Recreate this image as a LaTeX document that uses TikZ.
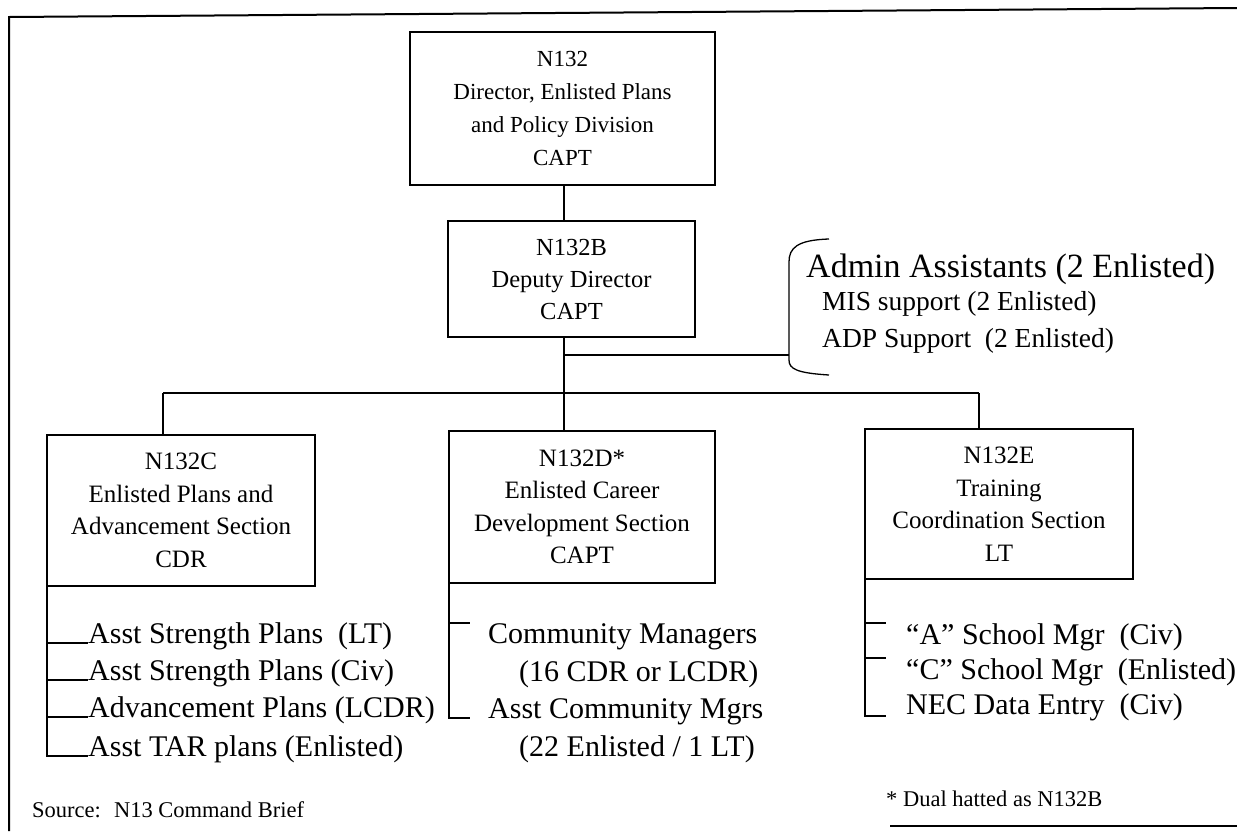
\documentclass[tikz,border=0pt]{standalone}
\usepackage{fontspec}
\setmainfont{Liberation Serif}
\begin{document}
\begin{tikzpicture}[x=1pt,y=-1pt,
  box/.style={draw, line width=1.6pt, inner sep=0pt, align=center, font=\fontsize{25}{32.5}\selectfont},
  conn/.style={line width=1.3pt},
  frame/.style={line width=2pt},
  item/.style={inner sep=0pt, anchor=base west, font=\fontsize{30}{37}\selectfont},
  staff/.style={inner sep=0pt, anchor=base west, font=\fontsize{27.5}{33}\selectfont},
  note/.style={inner sep=0pt, anchor=base west, font=\fontsize{22.5}{27}\selectfont},
]
\useasboundingbox (0,0) rectangle (1237,831);

% frame
\draw[frame] (9,831) -- (9,17) -- (1237,8);
\draw[frame] (890,826) -- (1237,826);

% boxes
\node[box, font=\fontsize{23}{33}\selectfont, minimum width=305pt, minimum height=153pt] (n132) at (562.5,108.5)
  {N132\\Director, Enlisted Plans\\and Policy Division\\CAPT};
\node[box, font=\fontsize{24.5}{32}\selectfont, minimum width=247pt, minimum height=116pt] (n132b) at (571.5,279)
  {N132B\\Deputy Director\\CAPT};
\node[box, minimum width=268pt, minimum height=151pt] (n132c) at (181,510.5)
  {N132C\\Enlisted Plans and\\Advancement Section\\CDR};
\node[box, minimum width=266pt, minimum height=152pt] (n132d) at (582,507)
  {N132D*\\Enlisted Career\\Development Section\\CAPT};
\node[box, minimum width=268pt, minimum height=150pt] (n132e) at (999,504)
  {N132E\\Training\\Coordination Section\\LT};

% connectors
\coordinate (spine) at (564,355);
\coordinate (brk) at (789,355);
\coordinate (busL) at (163,393);
\coordinate (busR) at (979,393);
\draw[conn] (n132.south -| spine) -- (n132b.north -| spine);
\draw[conn] (n132b.south -| spine) -- (n132d.north -| spine);
\draw[conn] (spine) -- (brk);
\draw[conn] (busL) -- (busR);
\draw[conn] (busL) -- (busL |- n132c.north);
\draw[conn] (busR) -- (busR |- n132e.north);

% staff bracket and texts
\draw[conn] (829,239) .. controls (797,240) and (789,248) .. (789,262)
  -- (789,360) .. controls (789,369) and (797,373) .. (829,375);
\node[inner sep=0pt, anchor=base west, font=\fontsize{34}{40}\selectfont] (adm) at (806,277) {Admin Assistants (2 Enlisted)};
\node[staff] (mis) at (822,310) {MIS support (2 Enlisted)};
\node[staff] (adp) at (822,347) {ADP Support~ (2 Enlisted)};

% N132C list
\node[item] (c1) at (88,643) {Asst Strength Plans~ (LT)};
\node[item] (c2) at (88,680) {Asst Strength Plans (Civ)};
\node[item] (c3) at (88,717) {Advancement Plans (LCDR)};
\node[item] (c4) at (88,756) {Asst TAR plans (Enlisted)};
\draw[conn] ([xshift=0.8pt]n132c.south west) |- (c4.base west);
\draw[conn] (n132c.west |- c1.base west) -- (c1.base west);
\draw[conn] (n132c.west |- c2.base west) -- (c2.base west);
\draw[conn] (n132c.west |- c3.base west) -- (c3.base west);

% N132D list
\node[item] (d1) at (488,643) {Community Managers};
\node[item] (d2) at (519,681) {(16 CDR or LCDR)};
\node[item] (d3) at (488,718) {Asst Community Mgrs};
\node[item] (d4) at (519,756) {(22 Enlisted / 1 LT)};
\draw[conn] ([xshift=0.8pt]n132d.south west) |- ([xshift=-18pt]d3.base west);
\draw[conn] (n132d.west |- d1.north west) -- ([xshift=-18pt]d1.north west);

% N132E list
\node[item] (e1) at (906,644) {“A” School Mgr~ (Civ)};
\node[item] (e2) at (906,679) {“C” School Mgr~ (Enlisted)};
\node[item] (e3) at (906,714) {NEC Data Entry~ (Civ)};
\draw[conn] ([xshift=0.8pt]n132e.south west) |- ([xshift=-20pt,yshift=-2pt]e3.base west);
\draw[conn] (n132e.west |- e1.north west) -- ([xshift=-20pt]e1.north west);
\draw[conn] (n132e.west |- e2.north west) -- ([xshift=-20pt]e2.north west);

% notes
\node[note] (src) at (32,817) {Source:~ N13 Command Brief};
\node[note] (dual) at (886,806) {* Dual hatted as N132B};
\end{tikzpicture}
\end{document}
